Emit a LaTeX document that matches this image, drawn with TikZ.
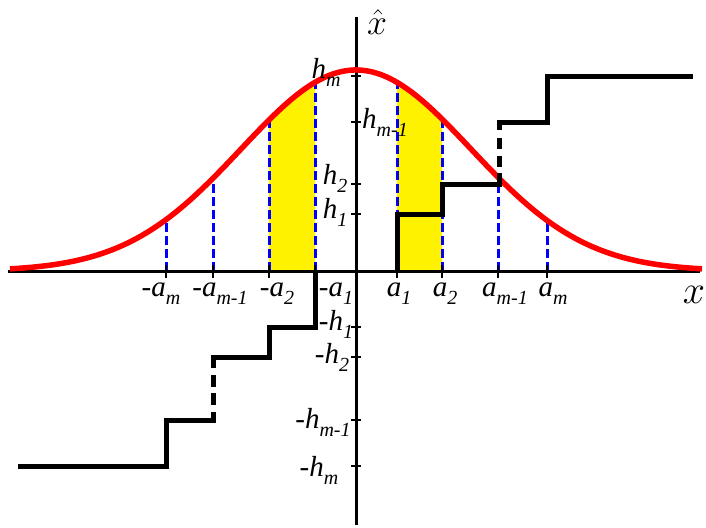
\documentclass[tikz,border=0pt]{standalone}
\usepackage{fontspec}
\setmainfont{Liberation Serif}
\newcommand\lsub[1]{\raisebox{-0.28em}{\fontsize{20}{22}\selectfont #1}}
\begin{document}
\begin{tikzpicture}[x=1pt,y=-1pt,
  declare function={g(\t)=271-201*exp(-0.5*(((\t-356)/115)^2));},
  axisline/.style={line width=3pt},
  tickline/.style={line width=2pt},
  stepline/.style={line width=5pt,line join=miter},
  stepdash/.style={line width=5pt,dash pattern=on 11pt off 7pt},
  bluedash/.style={blue,line width=3pt,dash pattern=on 9pt off 4pt},
  curve/.style={red,line width=5.5pt},
  lab/.style={font=\fontsize{29}{31}\selectfont\itshape,inner sep=0pt},
  mlab/.style={font=\fontsize{24.88}{26}\selectfont,inner sep=0pt,scale=1.6}]
\useasboundingbox (0,0) rectangle (706,527);
% yellow regions
\fill[yellow] (269,271) -- plot[domain=269:315,samples=30] (\x,{g(\x)}) -- (315,271) -- cycle;
\fill[yellow] (397,271) -- plot[domain=397:442,samples=30] (\x,{g(\x)}) -- (442,271) -- cycle;
% blue dashed lines
\foreach \p in {166,213,269,315,397,442,498,547}
  \draw[bluedash] (\p,271) -- (\p,{g(\p)});
% axes
\coordinate (xl) at (8,271);
\coordinate (xr) at (700,271);
\coordinate (yb) at (356,525);
\coordinate (yt) at (356,17);
\draw[axisline] (xl) -- (xr);
\draw[axisline] (yb) -- (yt);
% ticks x
\foreach \p in {166,213,269,315,397,442,498,547}
  \draw[tickline] (\p,265) -- (\p,278);
% ticks y
\foreach \q in {76,122,184,214,327,357,420,466}
  \draw[tickline] (351,\q) -- (361,\q);
% gaussian
\draw[curve] plot[domain=10:702,samples=200] (\x,{g(\x)});
% steps right
\coordinate (r0) at (397,271);
\coordinate (r1) at (397,214);
\coordinate (r2) at (442,214);
\coordinate (r3) at (442,184);
\coordinate (r4) at (499,184);
\coordinate (r4a) at (499,173);
\coordinate (r4b) at (499,167);
\coordinate (r5b) at (499,131);
\coordinate (r5a) at (499,130);
\coordinate (r5) at (499,122);
\coordinate (r6) at (547,122);
\coordinate (r7) at (547,76);
\coordinate (r8) at (693,76);
\draw[stepline] (r0) -- (r1) -- (r2) -- (r3) -- (r4) -- (r4a);
\draw[stepdash] (r4b) -- (r5b);
\draw[stepline] (r5a) -- (r5) -- (r6) -- (r7) -- (r8);
% steps left
\coordinate (l0) at (315,271);
\coordinate (l1) at (315,327);
\coordinate (l2) at (269,327);
\coordinate (l3) at (269,357);
\coordinate (l4) at (213,357);
\coordinate (l4a) at (213,368);
\coordinate (l4b) at (213,375);
\coordinate (l5b) at (213,405);
\coordinate (l5a) at (213,412);
\coordinate (l5) at (213,420);
\coordinate (l6) at (166,420);
\coordinate (l7) at (166,466);
\coordinate (l8) at (18,466);
\draw[stepline] (l0) -- (l1) -- (l2) -- (l3) -- (l4) -- (l4a);
\draw[stepdash,dash pattern=on 12pt off 6pt] (l4b) -- (l5b);
\draw[stepline] (l5a) -- (l5) -- (l6) -- (l7) -- (l8);
% x labels
\node[lab] (nam) at (161,294) {-a\lsub{m}};
\node[lab] (nam1) at (220,294) {-a\lsub{m-1}};
\node[lab] (na2) at (277,294) {-a\lsub{2}};
\node[lab] (na1) at (336,294) {-a\lsub{1}};
\node[lab] (pa1) at (399,294) {a\lsub{1}};
\node[lab] (pa2) at (445,294) {a\lsub{2}};
\node[lab] (pam1) at (505,294) {a\lsub{m-1}};
\node[lab] (pam) at (553,294) {a\lsub{m}};
% y labels
\node[lab] (hm) at (326,72) {h\lsub{m}};
\node[lab] (hm1) at (385,122) {h\lsub{m-1}};
\node[lab] (h2) at (335,178) {h\lsub{2}};
\node[lab] (h1) at (335,212) {h\lsub{1}};
\node[lab] (nh1) at (336,324) {-h\lsub{1}};
\node[lab] (nh2) at (332,357) {-h\lsub{2}};
\node[lab] (nhm1) at (323,422) {-h\lsub{m-1}};
\node[lab] (nhm) at (319,470) {-h\lsub{m}};
% axis labels
\node[mlab] (xlab) at (694,295) {$x$};
\node[mlab,scale=0.9] (xhat) at (377,22) {$\hat{x}$};
\end{tikzpicture}
\end{document}
